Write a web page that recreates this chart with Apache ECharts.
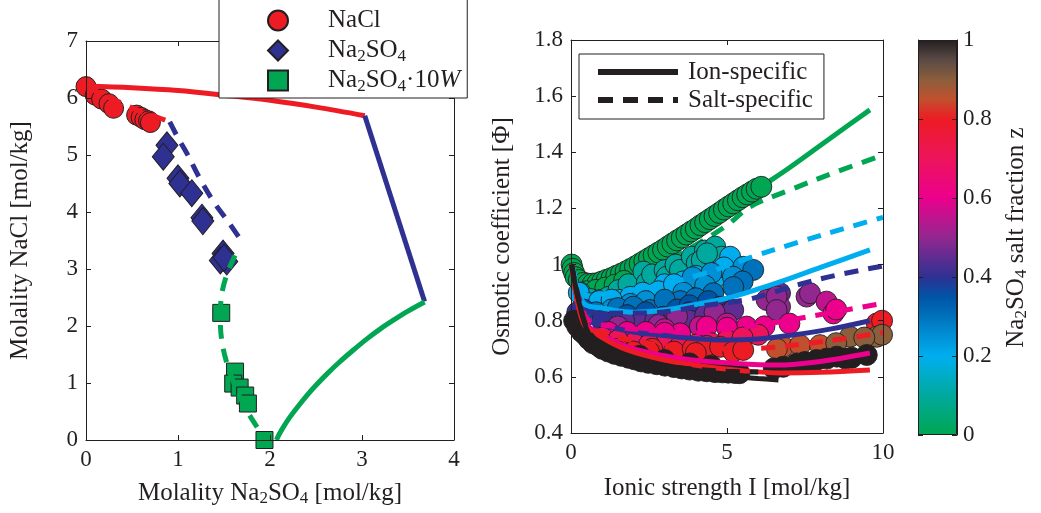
<!DOCTYPE html>
<html><head><meta charset="utf-8">
<script src="https://cdn.jsdelivr.net/npm/echarts@6/dist/echarts.min.js"></script>
<style>html,body{margin:0;padding:0;background:#fff}#c{width:1041px;height:513px}</style>
</head><body><div id="c"></div>
<script>
const FONT = "'Liberation Serif', 'Times New Roman', serif";
const INK = '#231f20';

// ---------- Left panel: solubility diagram (x: Na2SO4, y: NaCl molality) ----------
const naclPts = [[0,6.2],[0.1,6.05],[0.17,5.98],[0.25,5.9],[0.3,5.82],[0.55,5.7],[0.6,5.66],[0.64,5.62],[0.68,5.6],[0.7,5.57]];
const na2so4Pts = [[0.88,5.17],[0.84,4.97],[1.0,4.59],[1.02,4.5],[1.15,4.33],[1.26,3.9],[1.27,3.84],[1.49,3.27],[1.53,3.13],[1.46,3.15],[1.5,3.2]];
const decaPts = [[1.47,2.23],[1.62,1.2],[1.6,0.99],[1.67,0.92],[1.73,0.78],[1.76,0.64],[1.94,0]];

const ionNaClCurve = [[0,6.21],[0.5,6.18],[1,6.13],[1.5,6.05],[2,5.96],[2.5,5.84],[3.03,5.69]];
const ionNa2SO4Curve = [[3.03,5.69],[3.68,2.43]];
const ionDecaCurve = [[2.07,0],[2.1,0.1],[2.15,0.24],[2.22,0.41],[2.3,0.58],[2.4,0.78],[2.5,0.96],[2.62,1.16],[2.75,1.36],[2.9,1.57],[3.05,1.77],[3.2,1.95],[3.35,2.11],[3.5,2.26],[3.68,2.42]];
const saltNaClCurve = [[0,6.2],[0.2,6.05],[0.4,5.9],[0.55,5.79],[0.75,5.68],[0.91,5.58]];
const saltNa2SO4Curve = [[0.91,5.58],[1.0,5.3],[1.1,5.02],[1.25,4.55],[1.4,4.15],[1.55,3.82],[1.72,3.42]];
const saltDecaCurve = [[1.62,3.24],[1.53,2.9],[1.47,2.5],[1.46,2.1],[1.48,1.7],[1.54,1.3],[1.62,0.95],[1.72,0.6],[1.83,0.3],[1.96,0]];

// ---------- Right panel: osmotic coefficient vs ionic strength ----------
const osmZ = [0, 0.1, 0.2, 0.25, 0.3, 0.35, 0.4, 0.45, 0.5, 0.55, 0.6, 0.7, 0.8, 0.85, 0.9, 1.0];
const osm_z000 = [[0.02,1.0],[0.05,0.985],[0.1,0.97],[0.15,0.955],[0.25,0.945],[0.4,0.935],[0.55,0.932],[0.7,0.932],[0.85,0.934],[1.0,0.94],[1.15,0.946],[1.3,0.952],[1.45,0.96],[1.6,0.967],[1.75,0.975],[1.9,0.984],[2.05,0.993],[2.2,1.003],[2.35,1.013],[2.5,1.023],[2.65,1.033],[2.8,1.043],[2.95,1.053],[3.1,1.064],[3.25,1.075],[3.4,1.086],[3.55,1.096],[3.7,1.107],[3.85,1.118],[4.0,1.128],[4.15,1.14],[4.3,1.151],[4.45,1.162],[4.6,1.173],[4.75,1.184],[4.9,1.196],[5.05,1.207],[5.2,1.218],[5.35,1.229],[5.5,1.24],[5.65,1.25],[5.8,1.26],[5.95,1.27],[6.1,1.277],[0.5,0.905],[0.8,0.91],[1.1,0.918],[1.4,0.928],[1.7,0.942]];
const osm_z010 = [[0.3,0.9],[0.6,0.878],[0.93,0.874],[1.2,0.885],[1.52,0.909],[1.84,0.93],[2.32,0.975],[2.43,0.935],[2.6,0.965],[3.0,0.98],[3.07,0.957],[3.35,1.0],[3.49,0.981],[3.87,1.028],[4.03,1.005],[4.29,1.05],[4.19,1.016],[4.62,1.064],[4.83,1.028],[4.36,1.04]];
const osm_z020 = [[0.25,0.9],[0.6,0.862],[1.0,0.855],[1.57,0.874],[1.9,0.885],[2.1,0.874],[2.64,0.886],[3.0,0.93],[3.28,0.909],[3.6,0.94],[3.81,0.921],[4.24,0.945],[4.67,0.957],[5.1,1.028],[4.9,0.99],[0.9,0.87],[1.3,0.875],[2.3,0.9],[2.8,0.905],[3.3,0.93],[4.0,0.96]];
const osm_z025 = [[5.52,0.992],[5.19,0.957],[4.5,0.97],[3.9,0.955],[2.9,0.85],[1.3,0.84],[1.9,0.86],[2.4,0.87],[3.6,0.9],[4.3,0.925]];
const osm_z030 = [[5.84,0.981],[4.56,0.898],[2.53,0.838],[0.8,0.83],[3.5,0.87],[4.0,0.88],[5.5,0.94],[1.5,0.845],[2.0,0.85],[3.0,0.875],[5.2,0.92]];
const osm_z035 = [[2.96,0.814],[1.8,0.82],[0.4,0.84],[3.4,0.84],[2.4,0.83],[3.8,0.855],[4.4,0.87]];
const osm_z040 = [[0.2,0.83],[1.0,0.8],[2.0,0.8],[3.8,0.83],[4.78,0.85],[5.1,0.832]];
const osm_z045 = [[2.21,0.79],[3.28,0.8],[3.81,0.8],[5.2,0.838],[6.38,0.886],[6.7,0.898],[2.7,0.8],[4.3,0.82],[1.7,0.8]];
const osm_z050 = [[6.27,0.874],[6.7,0.85],[6.59,0.886],[6.59,0.838],[7.55,0.886],[7.66,0.898],[2.8,0.785],[1.5,0.78],[3.4,0.815],[4.6,0.83]];
const osm_z055 = [[8.19,0.868],[4.13,0.779],[5.0,0.79],[3.0,0.77]];
const osm_z060 = [[8.41,0.826],[8.5,0.84],[5.63,0.779],[4.35,0.779],[6.2,0.78],[2.4,0.76],[1.2,0.76],[0.3,0.79],[7.0,0.79],[3.5,0.755],[1.8,0.76],[3.0,0.757],[5.0,0.775]];
const osm_z070 = [[1.0,0.74],[2.0,0.72],[3.0,0.715],[4.0,0.715],[5.0,0.73],[6.0,0.75],[1.5,0.73],[2.5,0.715],[3.5,0.71],[4.5,0.72],[5.5,0.74]];
const osm_z080 = [[0.3,0.77],[1.0,0.72],[2.0,0.69],[2.6,0.7],[3.3,0.69],[3.9,0.7],[4.35,0.71],[4.78,0.707],[5.2,0.69],[5.52,0.696],[9.8,0.79],[9.97,0.8],[1.5,0.7],[2.5,0.69],[4.0,0.685],[0.6,0.74]];
const osm_z085 = [[6.8,0.707],[7.34,0.713],[7.98,0.713],[6.6,0.7]];
const osm_z090 = [[8.94,0.743],[9.8,0.743],[9.97,0.75],[8.5,0.72],[9.4,0.74],[0.55,0.74]];
const osm_z100 = [[0.1,0.8],[0.34,0.76],[0.56,0.735],[0.88,0.71],[1.2,0.69],[1.62,0.675],[2.05,0.662],[2.48,0.65],[3.01,0.64],[3.55,0.63],[4.08,0.622],[4.62,0.617],[5.04,0.615],[5.4,0.613],[6.8,0.636],[7.23,0.648],[7.87,0.66],[8.52,0.672],[9.0,0.668],[9.48,0.678],[0.2,0.78],[0.45,0.75],[0.7,0.72],[1.0,0.7],[1.4,0.682],[1.85,0.668],[2.25,0.655],[2.75,0.645],[3.3,0.635],[3.8,0.626],[4.35,0.62],[4.85,0.616],[5.25,0.614],[6.5,0.63],[7.5,0.653],[8.2,0.665],[8.8,0.665],[1.5,0.69],[2.2,0.675],[3.0,0.66],[3.8,0.648],[4.5,0.64]];
const osmGroups = [osm_z000, osm_z010, osm_z020, osm_z025, osm_z030, osm_z035, osm_z040, osm_z045, osm_z050, osm_z055, osm_z060, osm_z070, osm_z080, osm_z085, osm_z090, osm_z100];

// model curves, ion-specific (solid) and salt-specific (dashed), z = 0, 0.2, 0.4, 0.6, 0.8, 1
const ionZ0 = [[0.02,1.0],[0.5,0.905],[1,0.92],[2,0.98],[3,1.05],[4,1.12],[5,1.195],[6.27,1.29],[7,1.345],[8,1.425],[9,1.505],[9.58,1.551]];
const ionZ2 = [[0.02,1.0],[0.4,0.863],[1,0.845],[2,0.83],[3,0.838],[3.9,0.856],[5,0.88],[6.06,0.915],[7,0.95],[8,0.99],[9.58,1.052]];
const ionZ4 = [[0.02,1.0],[0.4,0.813],[1,0.785],[2,0.76],[2.85,0.749],[4,0.736],[5,0.731],[6,0.735],[7.1,0.749],[8.3,0.77],[9.58,0.8]];
const ionZ6 = [[0.02,1.0],[0.4,0.8],[1,0.75],[1.8,0.707],[3,0.675],[3.9,0.66],[5,0.65],[6.6,0.642],[8,0.655],[9.58,0.685]];
const ionZ8 = [[0.02,1.0],[0.4,0.79],[1,0.74],[1.8,0.696],[3,0.66],[4.35,0.636],[5.5,0.622],[6.7,0.614],[8,0.616],[9.58,0.624]];
const ionZ10 = [[0.02,1.0],[0.5,0.77],[1,0.7],[2,0.655],[3,0.628],[4,0.613],[5,0.602],[6,0.594],[6.65,0.589]];
const saltZ0 = [[0.02,1.0],[0.5,0.91],[1,0.915],[2,0.955],[3,1.01],[4,1.07],[5,1.14],[5.74,1.206],[7,1.265],[8.5,1.33],[10,1.39]];
const saltZ2 = [[0.02,1.0],[0.5,0.89],[1.3,0.9],[2.6,0.921],[4.3,0.969],[5.74,1.025],[7.3,1.08],[8.8,1.13],[10,1.168]];
const saltZ4 = [[0.02,1.0],[0.5,0.835],[1.25,0.827],[2.5,0.828],[3.4,0.838],[4.13,0.852],[5.63,0.875],[6.3,0.895],[7.34,0.93],[8.5,0.962],[10,0.995]];
const saltZ6 = [[0.02,1.0],[0.5,0.81],[1.36,0.779],[2.43,0.767],[3.3,0.76],[4.13,0.757],[5,0.77],[6.2,0.787],[7.34,0.809],[8.5,0.832],[10,0.862]];
const saltZ8 = [[0.02,1.0],[0.5,0.79],[1.25,0.75],[2.2,0.725],[3.3,0.708],[4.35,0.7],[6.06,0.702],[7.66,0.72],[8.8,0.737],[10,0.758]];
const saltZ10 = [[0.02,1.0],[0.5,0.775],[1,0.715],[2,0.665],[3,0.64],[4,0.627],[5,0.62],[6,0.617]];

// colour scale for Na2SO4 salt fraction z (0 .. 1 in steps of 0.05)
const cmap = ['#00a651','#00a877','#00a99d','#00acc6','#00aeef','#0090d6','#0072bc','#0054a6','#2e3192','#602c91','#92278f','#bf148e','#ec008c','#ec0a74','#ed145b','#ed1840','#ed1c24','#c1502e','#8b5e3c','#5a4a45','#231f20'];

// ---------- build ----------
const osmData = [];
osmGroups.forEach((g, k) => g.forEach(p => osmData.push([p[0], p[1], osmZ[k]])));

const sub = { fontSize: 17, fontFamily: FONT, lineHeight: 18, padding: [12, 0, 0, 0], color: INK };
const txt = { fontSize: 25, fontFamily: FONT, lineHeight: 30, color: INK };
const ital = { fontSize: 25, fontFamily: FONT, lineHeight: 30, fontStyle: 'italic', color: INK };
const rich = { t: txt, s: sub, i: ital };

const tickFmt = v => (Math.abs(v - Math.round(v)) < 1e-9 ? String(Math.round(v)) : v.toFixed(1));

function axisBase(extra) {
  return Object.assign({
    type: 'value',
    axisLine: { show: true, onZero: false, lineStyle: { color: INK, width: 1 } },
    axisTick: { show: true, inside: true, length: 5, lineStyle: { color: INK, width: 1 } },
    axisLabel: { color: INK, fontFamily: FONT, fontSize: 23, margin: 8, formatter: tickFmt },
    splitLine: { show: false },
    nameTextStyle: { color: INK, fontFamily: FONT, fontSize: 25, lineHeight: 30, rich: rich },
    z: 10
  }, extra);
}
function mirror(extra) {
  return axisBase(Object.assign({ axisLabel: { show: false } }, extra));
}

const DASH = [14, 10];
function line(name, data, color, dashed, gi, z, smooth) {
  return {
    name: name, type: 'line', data: data, xAxisIndex: gi, yAxisIndex: gi,
    showSymbol: false, symbol: 'none', smooth: smooth === undefined ? 0.35 : smooth,
    lineStyle: { color: color, width: 5, type: dashed ? DASH : 'solid', cap: 'butt' },
    itemStyle: { color: color }, z: z, silent: true
  };
}

const series = [
  // left panel
  { name: 'NaCl', type: 'scatter', data: naclPts, xAxisIndex: 0, yAxisIndex: 0, symbol: 'circle', symbolSize: 20,
    itemStyle: { color: '#ed1c24', borderColor: INK, borderWidth: 1, opacity: 1 }, z: 2 },
  { name: 'Na2SO4', type: 'scatter', data: na2so4Pts, xAxisIndex: 0, yAxisIndex: 0, symbol: 'diamond', symbolSize: [22, 27],
    itemStyle: { color: '#2e3192', borderColor: INK, borderWidth: 1, opacity: 1 }, z: 2 },
  { name: 'Na2SO4·10W', type: 'scatter', data: decaPts, xAxisIndex: 0, yAxisIndex: 0, symbol: 'rect', symbolSize: 17,
    itemStyle: { color: '#00a651', borderColor: INK, borderWidth: 1, opacity: 1 }, z: 2 },
  line('ionNaCl', ionNaClCurve, '#ed1c24', false, 0, 3),
  line('ionNa2SO4', ionNa2SO4Curve, '#2e3192', false, 0, 3, false),
  line('ionDeca', ionDecaCurve, '#00a651', false, 0, 3, 0.3),
  line('saltNaCl', saltNaClCurve, '#ed1c24', true, 0, 3),
  line('saltNa2SO4', saltNa2SO4Curve, '#2e3192', true, 0, 3),
  line('saltDeca', saltDecaCurve, '#00a651', true, 0, 3),
  // right panel
  line('ionZ0', ionZ0, '#00a651', false, 1, 1),
  line('saltZ0', saltZ0, '#00a651', true, 1, 1),
  { name: 'osm', type: 'scatter', data: osmData, xAxisIndex: 1, yAxisIndex: 1, symbol: 'circle', symbolSize: 21,
    itemStyle: { borderColor: INK, borderWidth: 0.9, opacity: 1 }, z: 2 },
  line('ionZ2', ionZ2, '#00aeef', false, 1, 3),
  line('saltZ2', saltZ2, '#00aeef', true, 1, 3),
  line('ionZ4', ionZ4, '#2e3192', false, 1, 3),
  line('saltZ4', saltZ4, '#2e3192', true, 1, 3),
  line('ionZ6', ionZ6, '#ec008c', false, 1, 3),
  line('saltZ6', saltZ6, '#ec008c', true, 1, 3),
  line('ionZ8', ionZ8, '#ed1c24', false, 1, 3),
  line('saltZ8', saltZ8, '#ed1c24', true, 1, 3),
  line('ionZ10', ionZ10, INK, false, 1, 3),
  line('saltZ10', saltZ10, INK, true, 1, 3),
  line('Ion-specific', [], INK, false, 1, 3),
  line('Salt-specific', [], INK, true, 1, 3),
  // colour bar
  { name: 'colorbar', type: 'bar', data: [1], xAxisIndex: 2, yAxisIndex: 4, barWidth: '100%', silent: true,
    itemStyle: { borderColor: INK, borderWidth: 1,
      color: { type: 'linear', x: 0, y: 1, x2: 0, y2: 0,
        colorStops: cmap.map((c, i) => ({ offset: i / (cmap.length - 1), color: c })) } }, z: 2 }
];
const osmIndex = series.findIndex(s => s.name === 'osm');

const legendLabels = {
  'NaCl': '{t|NaCl}{s| }',
  'Na2SO4': '{t|Na}{s|2}{t|SO}{s|4}',
  'Na2SO4·10W': '{t|Na}{s|2}{t|SO}{s|4}{t|·10}{i|W}'
};

const option = {
  animation: false,
  backgroundColor: '#fff',
  grid: [
    { left: 86, top: 41, width: 368, height: 399 },
    { left: 571, top: 40, width: 312, height: 393 },
    { left: 918, top: 40, width: 39, height: 395 }
  ],
  xAxis: [
    axisBase({ gridIndex: 0, min: 0, max: 4, interval: 1, position: 'bottom',
      name: '{t|Molality Na}{s|2}{t|SO}{s|4}{t| [mol/kg]}', nameLocation: 'middle', nameGap: 38 }),
    axisBase({ gridIndex: 1, min: 0, max: 10, interval: 5, position: 'bottom',
      name: 'Ionic strength I [mol/kg]', nameLocation: 'middle', nameGap: 40 }),
    { type: 'category', gridIndex: 2, data: ['z'], show: false },
    mirror({ gridIndex: 0, min: 0, max: 4, interval: 1, position: 'top' }),
    mirror({ gridIndex: 1, min: 0, max: 10, interval: 5, position: 'top' })
  ],
  yAxis: [
    axisBase({ gridIndex: 0, min: 0, max: 7, interval: 1, position: 'left',
      name: 'Molality NaCl [mol/kg]', nameLocation: 'middle', nameGap: 51 }),
    axisBase({ gridIndex: 1, min: 0.4, max: 1.8, interval: 0.2, position: 'left',
      name: 'Osmotic coefficient [Φ]', nameLocation: 'middle', nameGap: 54 }),
    mirror({ gridIndex: 0, min: 0, max: 7, interval: 1, position: 'right' }),
    mirror({ gridIndex: 1, min: 0.4, max: 1.8, interval: 0.2, position: 'right' }),
    axisBase({ gridIndex: 2, min: 0, max: 1, interval: 0.2, position: 'right',
      axisLabel: { color: INK, fontFamily: FONT, fontSize: 23, margin: 6, formatter: tickFmt },
      name: '{t|Na}{s|2}{t|SO}{s|4}{t| salt fraction z}', nameLocation: 'middle', nameRotate: 90, nameGap: 44 }),
    mirror({ gridIndex: 2, min: 0, max: 1, interval: 0.2, position: 'left' })
  ],
  visualMap: [{
    type: 'continuous', show: false, min: 0, max: 1, dimension: 2, seriesIndex: osmIndex,
    inRange: { color: cmap }
  }],
  legend: [
    {
      data: ['NaCl', 'Na2SO4', 'Na2SO4·10W'],
      orient: 'vertical', left: 219, top: -2,
      padding: [8, 7, 3, 48], itemWidth: 20, itemHeight: 20, itemGap: 1,
      borderColor: INK, borderWidth: 1, backgroundColor: '#fff', selectedMode: false,
      formatter: n => legendLabels[n],
      textStyle: { color: INK, fontFamily: FONT, fontSize: 25, padding: [0, 0, 0, 35], rich: rich }, z: 20
    },
    {
      data: [
        { name: 'Ion-specific', lineStyle: { width: 6, type: 'solid' } },
        { name: 'Salt-specific', lineStyle: { width: 6, type: [15, 10] } }
      ],
      orient: 'vertical', left: 579, top: 54,
      padding: [5, 11, 6, 16], itemWidth: 80, itemHeight: 14, itemGap: 2,
      itemStyle: { opacity: 0 },
      borderColor: INK, borderWidth: 1, backgroundColor: '#fff', selectedMode: false,
      textStyle: { color: INK, fontFamily: FONT, fontSize: 25, lineHeight: 26, padding: [0, 0, 0, 5] }, z: 20
    }
  ],
  series: series
};

const chart = echarts.init(document.getElementById('c'), null, { renderer: 'canvas' });
chart.setOption(option);
</script></body></html>
